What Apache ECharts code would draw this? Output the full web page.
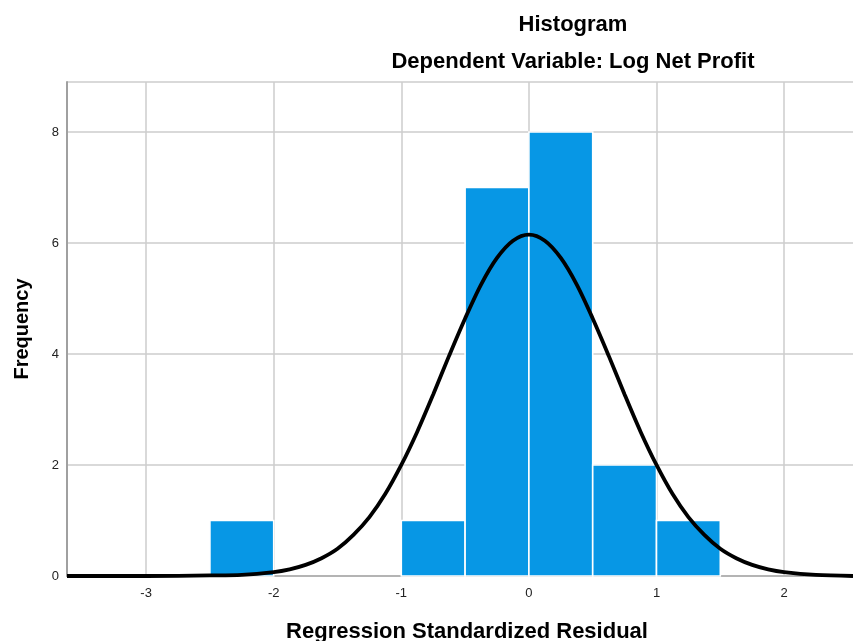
<!DOCTYPE html>
<html>
<head>
<meta charset="utf-8">
<script src="https://cdn.jsdelivr.net/npm/echarts@6/dist/echarts.min.js"></script>
<style>html,body{margin:0;padding:0;background:#fff}#c{width:853px;height:641px}</style>
</head>
<body>
<div id="c"></div>
<script>
// Histogram bins (Regression Standardized Residual)
const binStart = [-2.5, -1.0, -0.5, 0.0, 0.5, 1.0];
const binEnd   = [-2.0, -0.5, 0.0, 0.5, 1.0, 1.5];
const frequency = [1, 1, 7, 8, 2, 1];

// Normal curve, values
const curveX = [-3.62, -3, -2.5, -2.25, -2, -1.875, -1.75, -1.625, -1.5, -1.375, -1.25, -1.125, -1, -0.875, -0.75, -0.625, -0.5, -0.375, -0.25, -0.125,
                0, 0.125, 0.25, 0.375, 0.5, 0.625, 0.75, 0.875, 1, 1.125, 1.25, 1.375, 1.5, 1.625, 1.75, 1.875, 2, 2.25, 2.54];
const curveY = [0, 0, 0.01, 0.02, 0.07, 0.12, 0.2, 0.32, 0.49, 0.74, 1.06, 1.48, 2.0, 2.6, 3.27, 3.97, 4.64, 5.25, 5.73, 6.04,
                6.15, 6.04, 5.73, 5.25, 4.64, 3.97, 3.27, 2.6, 2.0, 1.48, 1.06, 0.74, 0.49, 0.32, 0.2, 0.12, 0.07, 0.02, 0];

const xTicks = [-3, -2, -1, 0, 1, 2];
const yTicks = [0, 2, 4, 6, 8];

const FONT = "'Liberation Sans', Arial, sans-serif";

const barData = binStart.map((s, i) => [s, binEnd[i], frequency[i]]);
const curveData = curveX.map((x, i) => [x, curveY[i]]);

const chart = echarts.init(document.getElementById('c'), null, {renderer: 'canvas'});
chart.setOption({
  animation: false,
  backgroundColor: '#fff',
  grid: {left: 67, right: 0, top: 82, bottom: 65, containLabel: false, outerBoundsMode: 'none'},
  graphic: [
    {type: 'text', x: 573, y: 25, style: {text: 'Histogram', font: 'bold 22px ' + FONT, fill: '#000', textAlign: 'center', textVerticalAlign: 'middle'}},
    {type: 'text', x: 573, y: 62, style: {text: 'Dependent Variable: Log Net Profit', font: 'bold 22px ' + FONT, fill: '#000', textAlign: 'center', textVerticalAlign: 'middle'}},
    {type: 'text', x: 467, y: 632, style: {text: 'Regression Standardized Residual', font: 'bold 22px ' + FONT, fill: '#000', textAlign: 'center', textVerticalAlign: 'middle'}}
  ],
  xAxis: {
    type: 'value', min: -3.62, max: 2.54,
    axisLine: {show: true, onZero: false, lineStyle: {color: '#a8a8a8', width: 1.5}},
    axisTick: {show: false, customValues: xTicks},
    axisLabel: {
      margin: 11, color: '#222', fontSize: 13, fontFamily: FONT,
      customValues: xTicks
    },
    splitLine: {show: true, lineStyle: {color: '#cdcdcd', width: 1.5}}
  },
  yAxis: {
    type: 'value', min: 0, max: 8.9, interval: 2,
    name: 'Frequency', nameLocation: 'middle', nameGap: 35, nameRotate: 90,
    nameTextStyle: {fontSize: 20, fontWeight: 'bold', fontFamily: FONT, color: '#000'},
    axisLine: {show: true, onZero: false, lineStyle: {color: '#a0a0a0', width: 2}},
    axisTick: {show: false},
    axisLabel: {
      margin: 8, color: '#222', fontSize: 13, fontFamily: FONT,
      formatter: v => (yTicks.indexOf(v) >= 0 ? String(v) : '')
    },
    splitLine: {show: true, lineStyle: {color: '#cdcdcd', width: 1.5}}
  },
  series: [
    {
      type: 'custom',
      data: barData,
      encode: {x: [0, 1], y: 2},
      renderItem: function (params, api) {
        const p0 = api.coord([api.value(0), api.value(2)]);
        const p1 = api.coord([api.value(1), 0]);
        return {
          type: 'rect',
          shape: {x: p0[0], y: p0[1], width: p1[0] - p0[0], height: p1[1] - p0[1]},
          style: {fill: '#0797e5', stroke: '#ffffff', lineWidth: 1.6}
        };
      }
    },
    {
      type: 'line',
      data: curveData,
      smooth: 0.3,
      showSymbol: false,
      clip: false,
      lineStyle: {color: '#000', width: 3.8},
      z: 5
    }
  ]
});
</script>
</body>
</html>
